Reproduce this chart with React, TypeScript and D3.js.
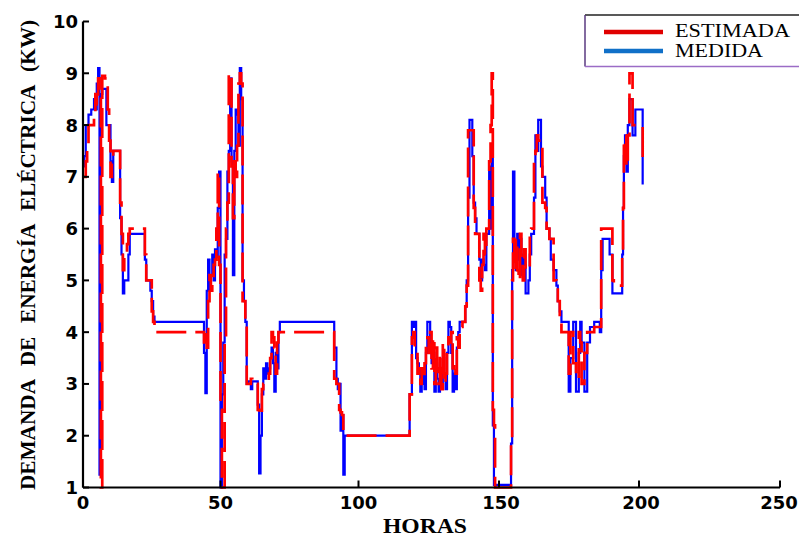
import React from "react";
import * as d3 from "d3";

// Hours (breakpoints of the step series)
const horas = [
  0, 0.5, 1, 1.5, 2, 3, 4, 4.5, 5, 5.5, 6, 6.5, 7, 8, 8.5, 9, 9.5, 10, 10.5, 11,
  13.5, 14, 14.5, 15, 16, 16.5, 17, 22.5, 23, 24.5, 25, 25.5, 26,
  44, 44.5, 45, 45.5, 46, 46.5, 47, 47.5, 48, 48.5, 49, 49.5, 50, 50.5, 51, 51.5, 52, 52.5,
  53, 53.5, 54, 54.5, 55, 55.5, 56, 56.5, 57, 57.5, 58, 58.5, 59, 59.5, 60, 61, 61.5,
  63.5, 64, 64.5, 65, 65.5, 66, 66.5, 67, 67.5, 68, 68.5, 69, 69.5, 70, 70.5, 71, 71.5,
  91.2, 92, 92.5, 93, 93.5, 94, 94.5, 95,
  118.2, 119, 119.5, 120, 120.5, 121, 121.5, 122, 122.5, 123, 123.5, 124, 124.5, 125,
  125.5, 126, 126.5, 127, 127.5, 128, 128.5, 129, 129.5, 130, 130.5, 131, 131.5, 132,
  132.5, 133, 133.5, 134, 134.5, 135, 135.5, 136, 137, 138, 138.5, 139, 139.5, 140.5,
  141, 141.5, 142, 143, 143.5, 144, 144.5, 145, 145.5, 146.5, 147, 147.4, 147.8, 148.2,
  148.6, 154.3, 154.7, 155, 155.5, 156, 156.5, 157, 157.5, 158, 158.5, 159, 159.5, 160.5,
  161, 161.5, 162.5, 163, 163.5, 164, 165, 165.5, 166.5, 167, 168, 168.5, 169.5, 170.5,
  171, 171.7, 172.3, 174.9, 175.5, 176.5, 177.5, 178.5, 179, 179.5, 180.5, 181.5, 182.5,
  184, 186, 186.5, 187, 189.5, 190.5, 191, 194, 194.3, 194.6, 195, 195.5, 196, 196.6,
  197.7, 198.7, 201.3,
];

// MEDIDA (measured demand, kW)
const medida = [
  7.2, 7.4, 8.0, 8.0, 8.2, 8.3, 8.5, 8.3, 8.8, 9.1, 1.25, 8.6, 8.7, 8.7, 8.0, 8.0, 8.0, 7.3, 6.9, 7.5,
  6.2, 5.5, 4.75, 5.0, 5.0, 5.5, 5.9, 5.4, 5.0, 4.8, 4.6, 4.3, 4.2,
  3.6, 2.82, 4.8, 5.4, 4.8, 5.1, 5.5, 5.0, 5.6, 5.45, 6.4, 7.1, 1.0, 2.8, 3.8, 5.5, 5.8, 7.1,
  7.5, 8.9, 7.3, 5.1, 7.5, 8.3, 8.2, 7.6, 9.1, 8.5, 5.0, 4.6, 4.2, 3.0, 3.05, 2.9, 3.05,
  2.6, 1.27, 2.0, 2.8, 3.3, 3.1, 3.4, 3.2, 3.3, 3.5, 3.7, 3.4, 2.85, 3.6, 3.3, 4.0, 4.2,
  3.7, 3.1, 2.9, 3.0, 2.1, 2.4, 1.25, 2.0,
  2.8, 4.2, 4.1, 4.2, 3.5, 3.4, 3.3, 2.85, 3.0, 3.2, 2.9, 3.6, 4.2, 4.2,
  3.7, 3.4, 3.6, 2.85, 3.4, 3.1, 2.85, 3.3, 3.0, 3.5, 3.2, 2.9, 3.6, 4.2,
  4.1, 3.6, 2.85, 3.2, 2.9, 3.7, 4.0, 4.2, 4.2, 4.5, 5.0, 6.6, 8.1, 7.4,
  6.5, 6.2, 5.9, 5.4, 5.0, 5.4, 5.3, 5.2, 5.9, 7.2, 6.0, 7.5, 2.2, 1.05,
  1.05, 1.85, 5.2, 7.1, 5.6, 5.2, 5.9, 5.4, 5.8, 5.1, 5.5, 5.3, 4.75, 5.0,
  5.5, 5.9, 6.6, 7.8, 7.5, 8.1, 7.2, 7.0, 6.6, 6.0, 5.8, 5.4, 5.2, 4.9,
  4.6, 4.4, 4.2, 2.85, 3.5, 4.2, 2.85, 3.6, 4.2, 3.8, 2.85, 3.8, 4.1,
  4.2, 4.0, 5.2, 5.8, 5.5, 4.75, 4.75, 5.5, 6.4, 7.4, 7.8, 7.1, 8.0, 8.5,
  7.8, 8.3, 6.85,
];

// ESTIMADA (estimated demand, kW)
const estimada = [
  7.0, 7.0, 7.3, 7.6, 8.0, 8.0, 8.2, 8.6, 8.4, 8.9, 8.6, 1.0, 8.95, 8.9, 8.9, 8.3, 7.7, 7.0, 7.4, 7.5,
  6.5, 5.9, 5.2, 5.5, 5.7, 5.9, 6.0, 5.5, 5.0, 5.0, 4.4, 4.2, 4.0,
  3.8, 4.0, 3.7, 4.6, 5.1, 4.8, 5.05, 5.3, 5.4, 6.0, 7.1, 5.3, 2.5, 1.0, 1.0, 3.8, 6.0, 6.5,
  9.0, 9.0, 7.2, 6.2, 7.3, 7.0, 7.6, 8.8, 9.0, 8.8, 4.6, 4.6, 4.2, 3.0, 3.0, 3.1, 3.0,
  2.5, 2.4, 2.4, 2.9, 3.0, 3.0, 3.0, 3.0, 3.2, 3.5, 4.0, 3.9, 3.7, 3.2, 3.8, 4.0, 4.0,
  3.1, 3.0, 3.0, 2.5, 2.45, 2.4, 2.0, 2.0,
  2.8, 3.9, 4.0, 3.7, 3.7, 3.2, 3.3, 3.0, 3.3, 3.1, 3.4, 3.8, 3.9, 3.6,
  4.0, 3.3, 3.9, 3.0, 3.7, 3.3, 3.0, 3.5, 2.9, 3.8, 3.0, 3.2, 3.6, 3.9,
  3.8, 4.0, 3.3, 3.4, 3.2, 3.9, 3.7, 4.1, 4.2, 4.5, 4.9, 7.9, 7.9, 7.9,
  6.4, 5.9, 5.9, 5.0, 4.8, 5.3, 5.9, 5.5, 6.0, 7.3, 8.0, 9.0, 2.5, 2.2,
  1.0, 1.85, 5.0, 5.8, 5.2, 5.8, 5.2, 5.0, 5.9, 5.4, 5.0, 5.6, 5.2, 5.2,
  5.9, 6.0, 7.4, 7.5, 7.8, 7.7, 7.6, 6.5, 6.4, 6.0, 5.8, 5.8, 5.0, 4.9,
  4.6, 4.2, 4.0, 3.2, 4.0, 3.4, 3.1, 4.0, 3.8, 3.0, 3.6, 4.0, 4.0,
  4.1, 4.1, 6.0, 6.0, 6.0, 5.0, 4.9, 5.5, 6.4, 7.6, 7.8, 7.2, 7.8, 9.0,
  8.0, 8.0, 7.3,
];

const xTicks = [0, 50, 100, 150, 200, 250];
const yTicks = [1, 2, 3, 4, 5, 6, 7, 8, 9, 10];
const legendItems = ["ESTIMADA", "MEDIDA"];
const yTitle = "DEMANDA DE ENERGÍA ELÉCTRICA (KW)";
const xTitle = "HORAS";

export default function App() {
  const W = 799;
  const H = 539;
  const x = d3
    .scaleLinear()
    .domain([0, 50, 100, 150, 200, 250])
    .range([83, 220.5, 358.5, 499, 639, 780]);
  const y = d3.scaleLinear().domain([1, 10]).range([487.5, 21.5]);

  const mkLine = (vals: number[]) =>
    d3
      .line<number>()
      .x((_, i) => x(horas[i]))
      .y((v) => y(v))
      .curve(d3.curveStepAfter)(vals) || "";

  const tickFont = "'DejaVu Sans', sans-serif";
  const serif = "'Liberation Serif', 'Times New Roman', serif";

  return (
    <svg
      width={W}
      height={H}
      viewBox={`0 0 ${W} ${H}`}
      style={{ position: "absolute", left: 0, top: 0, background: "#fff" }}
    >
      <rect x={0} y={0} width={W} height={H} fill="#fff" />
      {/* series */}
      <path d={mkLine(medida)} fill="none" stroke="#0000ff" strokeWidth={2.2} />
      <path
        d={mkLine(estimada)}
        fill="none"
        stroke="#ff0000"
        strokeWidth={2.7}
        strokeDasharray="30 9"
      />

      {/* axes */}
      <line x1={x(0)} y1={y(1)} x2={x(250)} y2={y(1)} stroke="#000" strokeWidth={2.2} />
      <line x1={x(0)} y1={y(1)} x2={x(0)} y2={y(10)} stroke="#000" strokeWidth={2.2} />
      {xTicks.map((t) => (
        <g key={"xt" + t}>
          <line x1={x(t)} x2={x(t)} y1={y(1)} y2={y(1) - 7} stroke="#000" strokeWidth={2} />
          <text
            x={x(t) + (t === 250 ? -1 : t >= 150 ? 2 : 0)}
            y={509}
            textAnchor="middle"
            fontFamily={tickFont}
            fontWeight="bold"
            fontSize={18}
            fill="#000"
          >
            {t}
          </text>
        </g>
      ))}
      {yTicks.map((t) => (
        <g key={"yt" + t}>
          <line x1={x(0)} x2={x(0) + 6} y1={y(t)} y2={y(t)} stroke="#000" strokeWidth={2} />
          <text
            x={78}
            y={y(t) + 6.5}
            textAnchor="end"
            fontFamily={tickFont}
            fontWeight="bold"
            fontSize={18}
            fill="#000"
          >
            {t}
          </text>
        </g>
      ))}

      {/* axis titles */}
      <text
        transform={`translate(35,255) rotate(-90)`}
        textAnchor="middle"
        fontFamily={serif}
        fontWeight="bold"
        fontSize={20}
        textLength={470}
        lengthAdjust="spacingAndGlyphs"
        style={{ wordSpacing: "8px" }}
        fill="#000"
      >
        {yTitle}
      </text>
      <text
        x={425}
        y={533}
        textAnchor="middle"
        fontFamily={serif}
        fontWeight="bold"
        fontSize={21}
        textLength={84}
        lengthAdjust="spacingAndGlyphs"
        fill="#000"
      >
        {xTitle}
      </text>

      {/* legend */}
      <rect x={585} y={15} width={230} height={51.5} fill="#fff" stroke="none" />
      <line x1={585} y1={15} x2={799} y2={15} stroke="#222" strokeWidth={1.5} />
      <line x1={585} y1={15} x2={585} y2={66.5} stroke="#5a3a80" strokeWidth={1.5} />
      <line x1={585} y1={66.5} x2={799} y2={66.5} stroke="#9b6cc6" strokeWidth={1.5} />
      {legendItems.map((name, i) => (
        <g key={name}>
          <line
            x1={604}
            x2={663}
            y1={32 + i * 19}
            y2={32 + i * 19}
            stroke={i === 0 ? "#e00000" : "#1070c8"}
            strokeWidth={4.5}
          />
          <text
            x={675}
            y={37 + i * 20}
            fontFamily={serif}
            fontSize={18}
            textLength={i === 0 ? 115 : 88}
            lengthAdjust="spacingAndGlyphs"
            fill="#000"
          >
            {name}
          </text>
        </g>
      ))}
    </svg>
  );
}
